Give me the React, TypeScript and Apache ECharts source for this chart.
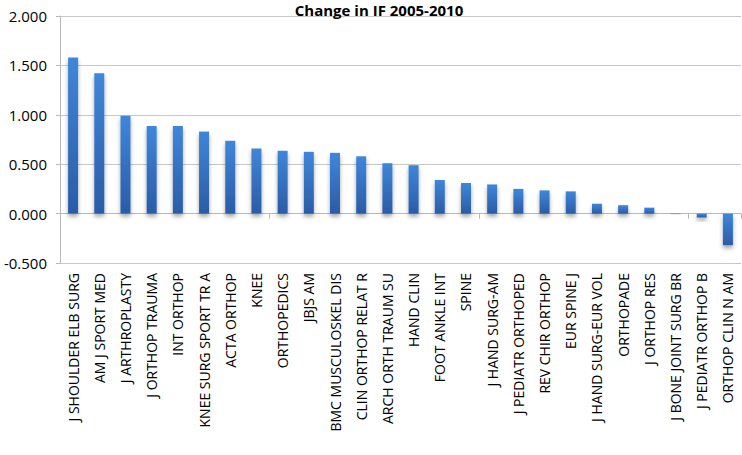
import React, { useEffect, useRef } from "react";
import * as echarts from "echarts";

const categories = [
  "J SHOULDER ELB SURG",
  "AM J SPORT MED",
  "J ARTHROPLASTY",
  "J ORTHOP TRAUMA",
  "INT ORTHOP",
  "KNEE SURG SPORT TR A",
  "ACTA ORTHOP",
  "KNEE",
  "ORTHOPEDICS",
  "JBJS AM",
  "BMC MUSCULOSKEL DIS",
  "CLIN ORTHOP RELAT R",
  "ARCH ORTH TRAUM SU",
  "HAND CLIN",
  "FOOT ANKLE INT",
  "SPINE",
  "J HAND SURG-AM",
  "J PEDIATR ORTHOPED",
  "REV CHIR ORTHOP",
  "EUR SPINE J",
  "J HAND SURG-EUR VOL",
  "ORTHOPADE",
  "J ORTHOP RES",
  "J BONE JOINT SURG BR",
  "J PEDIATR ORTHOP B",
  "ORTHOP CLIN N AM",
];

const changeIF = [
  1.58, 1.42, 0.99, 0.886, 0.886, 0.83, 0.737, 0.66, 0.636, 0.625, 0.615, 0.58,
  0.51, 0.49, 0.34, 0.31, 0.295, 0.25, 0.235, 0.225, 0.1, 0.085, 0.06, -0.005,
  -0.04, -0.32,
];

const titleText = "Change in IF 2005-2010";

export default function App() {
  const ref = useRef<HTMLDivElement>(null);
  useEffect(() => {
    if (!ref.current) return;
    const chart = echarts.init(ref.current, null, { renderer: "svg" });
    const font = "'Open Sans', sans-serif";
    chart.setOption({
      animation: false,
      title: {
        text: titleText,
        left: 374,
        top: -3,
        textAlign: "center",
        textStyle: { fontFamily: font, fontSize: 15, fontWeight: "bold", color: "#000" },
      },
      grid: { left: 60, right: 1, top: 16, bottom: 192, containLabel: false },
      xAxis: [
        {
          type: "category",
          data: categories,
          position: "bottom",
          axisLine: { show: false, onZero: false },
          axisTick: { show: false },
          axisLabel: {
            interval: 0,
            rotate: 90,
            margin: 10,
            fontFamily: font,
            fontSize: 14,
            color: "#000",
          },
          splitLine: { show: false },
        },
        {
          type: "category",
          data: categories,
          position: "bottom",
          axisLine: { show: true, onZero: true, lineStyle: { color: "#b8b8b8", width: 1 } },
          axisTick: { show: true, length: 5, lineStyle: { color: "#b8b8b8" } },
          axisLabel: { show: false },
          splitLine: { show: false },
        },
      ],
      yAxis: {
        type: "value",
        min: -0.5,
        max: 2,
        interval: 0.5,
        axisLine: { show: true, lineStyle: { color: "#b8b8b8" } },
        axisTick: { show: true, length: 4, lineStyle: { color: "#b8b8b8" } },
        axisLabel: {
          formatter: (v: number) => v.toFixed(3),
          fontFamily: font,
          fontSize: 15,
          color: "#000",
          margin: 13,
        },
        splitLine: { show: true, lineStyle: { color: "#c8c8c8", width: 1 } },
      },
      series: [
        {
          type: "bar",
          xAxisIndex: 0,
          data: changeIF,
          barWidth: 10,
          itemStyle: {
            color: new echarts.graphic.LinearGradient(0, 0, 0, 1, [
              { offset: 0, color: "#3f86da" },
              { offset: 1, color: "#2a5ca6" },
            ]),
            shadowBlur: 4,
            shadowColor: "rgba(0,0,0,0.35)",
            shadowOffsetY: 3,
          },
        },
      ],
    });
    return () => chart.dispose();
  }, []);
  return (
    <div
      ref={ref}
      style={{ position: "absolute", left: 0, top: 0, width: 742, height: 455 }}
    />
  );
}
